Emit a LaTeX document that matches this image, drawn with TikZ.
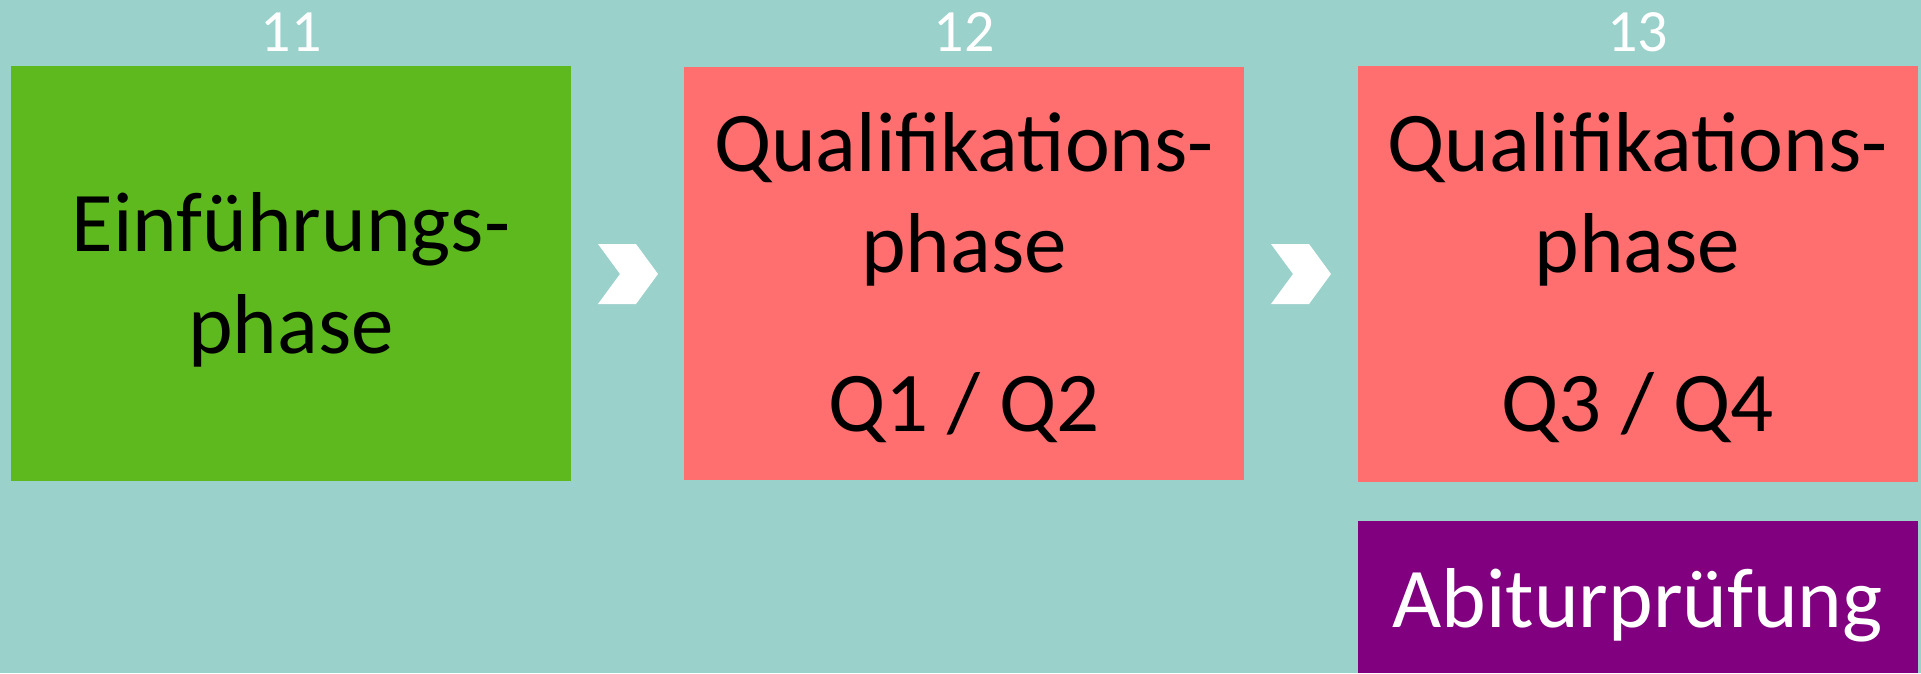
\documentclass[tikz,border=0pt]{standalone}
\usepackage{fontspec}
\setmainfont{Carlito}
\definecolor{bgc}{RGB}{155,209,203}
\definecolor{gbox}{RGB}{94,185,30}
\definecolor{rbox}{RGB}{255,111,111}
\definecolor{pbox}{RGB}{128,0,128}
\begin{document}
\begin{tikzpicture}[x=1pt,y=-1pt,
  box/.style={draw=none, inner sep=0pt, minimum width=560pt},
  big/.style={font=\fontsize{85}{102}\selectfont, anchor=base, inner sep=0pt},
  year/.style={font=\fontsize{60}{72}\selectfont, text=white, anchor=base, inner sep=0pt},
  chev/.style={fill=white, draw=none}]
\useasboundingbox[fill=bgc] (0,0) rectangle (1921,673);
% boxes
\node[box, fill=gbox, minimum height=415pt] (e) at (291,273.5) {};
\node[box, fill=rbox, minimum height=413pt] (q1) at (964,273.5) {};
\node[box, fill=rbox, minimum height=416pt] (q2) at (1637.5,274) {};
\node[box, fill=pbox, minimum height=152pt] (abi) at (1637.5,597) {};
% years
\node[year] (y11) at (291,51) {11};
\node[year] (y12) at (964,51) {12};
\node[year] (y13) at (1637.5,51) {13};
% texts
\node[big] (e1) at (291,251) {Einführungs-};
\node[big] (e2) at (291,353) {phase};
\node[big] (a1) at (964,171) {Qualifikations-};
\node[big] (a2) at (964,272) {phase};
\node[big] (a3) at (964,431) {Q1 / Q2};
\node[big] (b1) at (1637.5,171) {Qualifikations-};
\node[big] (b2) at (1637.5,272) {phase};
\node[big] (b3) at (1637.5,431) {Q3 / Q4};
\node[big, text=white] (abit) at (1637.5,627) {Abiturprüfung};
% chevrons
\fill[chev] (598,244) -- (636,244) -- (658,274) -- (636,304) -- (598,304) -- (620,274) -- cycle;
\fill[chev] (1271,244) -- (1309,244) -- (1331,274) -- (1309,304) -- (1271,304) -- (1293,274) -- cycle;
\end{tikzpicture}
\end{document}
